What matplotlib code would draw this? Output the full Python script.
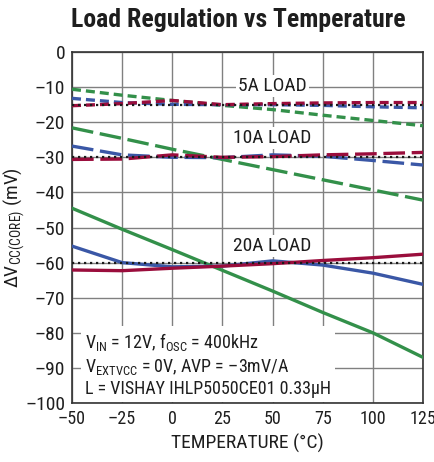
import matplotlib
matplotlib.use("Agg")
import matplotlib.pyplot as plt
from matplotlib import font_manager

names = {f.name for f in font_manager.fontManager.ttflist}
def pick(cands, default='Liberation Sans'):
    for c in cands:
        if c in names:
            return c
    return default

cond = pick(['Roboto Condensed', 'Archivo Narrow', 'Liberation Sans Narrow', 'Barlow Semi Condensed'])
cond_bold = pick(['Roboto Condensed', 'Barlow Condensed', 'Liberation Sans Narrow', 'Archivo Narrow'])
plt.rcParams['font.family'] = [cond, 'DejaVu Sans']
plt.rcParams['mathtext.fontset'] = 'custom'
plt.rcParams['mathtext.rm'] = cond

temps = [-50, -25, 0, 25, 50, 75, 100, 125]

# 5A load
g5 = [-10.6, -12.3, -13.8, -15.2, -16.4, -18.0, -19.5, -21.0]
b5 = [-13.2, -14.4, -14.9, -15.0, -15.0, -15.2, -15.6, -15.9]
r5 = [-15.3, -14.7, -13.8, -15.0, -14.7, -14.5, -14.4, -14.4]
# 10A load
g10 = [-21.6, -24.6, -27.7, -30.6, -33.5, -36.4, -39.3, -42.2]
b10 = [-26.8, -29.3, -30.0, -30.1, -29.3, -29.7, -30.9, -32.2]
r10 = [-30.6, -30.5, -29.3, -30.0, -29.8, -29.3, -29.0, -28.6]
# 20A load
g20 = [-44.5, -50.5, -56.3, -62.2, -68.1, -74.2, -80.0, -87.0]
b20 = [-55.3, -60.0, -61.2, -61.0, -59.5, -60.7, -63.0, -66.2]
r20 = [-62.1, -62.3, -61.6, -61.0, -60.3, -59.4, -58.6, -57.6]
# ideal (AVP) lines
ideal = [-15, -30, -60]

xticks = [-50, -25, 0, 25, 50, 75, 100, 125]
yticks = [0, -10, -20, -30, -40, -50, -60, -70, -80, -90, -100]

GREEN = '#33904a'
BLUE = '#3a57a6'
RED = '#9a0d3c'
TXT = '#1e1e1e'
FS = 14

fig = plt.figure(figsize=(4.35, 4.62), dpi=100)
ax = fig.add_axes([0.1655, 0.1277, 0.8069, 0.7597])

lw = 2.4
short = (0, (2.7, 1.5))
long_ = (0, (6.5, 2.0))
for y, c in [(g5, GREEN), (b5, BLUE), (r5, RED)]:
    ax.plot(temps, y, color=c, lw=lw, linestyle=short, zorder=3)
for y, c in [(g10, GREEN), (b10, BLUE), (r10, RED)]:
    ax.plot(temps, y, color=c, lw=lw, linestyle=long_, zorder=3)
for y, c in [(g20, GREEN), (b20, BLUE), (r20, RED)]:
    ax.plot(temps, y, color=c, lw=lw, linestyle='-', zorder=3)
for v in ideal:
    ax.plot([temps[0], temps[-1]], [v, v], color='#1a1a1a', lw=1.6,
            linestyle=(0, (1.0, 1.7)), zorder=4)

ax.set_xlim(-50, 125)
ax.set_ylim(-100, 0)
ax.set_xticks(xticks)
ax.set_yticks(yticks)
ax.set_xticklabels(['\u2013' + str(-t) if t < 0 else str(t) for t in xticks])
ax.set_yticklabels(['\u2013' + str(-t) if t < 0 else str(t) for t in yticks])
ax.grid(True, color='#808080', lw=1.0, zorder=1)
ax.tick_params(axis='both', length=0, labelsize=FS, colors=TXT, pad=5)
ax.tick_params(axis='x', labelsize=13)
for s in ax.spines.values():
    s.set_color('#333333')
    s.set_linewidth(1.2)

bbox = dict(facecolor='white', edgecolor='none', pad=1.5)
ax.text(50, -9.7, '5A LOAD', ha='center', va='center', fontsize=FS, color=TXT, bbox=bbox, zorder=5)
ax.text(50, -24.5, '10A LOAD', ha='center', va='center', fontsize=FS, color=TXT, bbox=bbox, zorder=5)
ax.text(50, -55.3, '20A LOAD', ha='center', va='center', fontsize=FS, color=TXT, bbox=bbox, zorder=5)

ann = ('V$_{\\mathregular{IN}}$ = 12V, f$_{\\mathregular{OSC}}$ = 400kHz\n'
       'V$_{\\mathregular{EXTVCC}}$ = 0V, AVP = \u20133mV/A\n'
       'L = VISHAY IHLP5050CE01 0.33\u00b5H')
ax.text(-43.5, -89.0, ann, ha='left', va='center', fontsize=13, color=TXT,
        linespacing=1.22, bbox=dict(facecolor='white', edgecolor='none', pad=3), zorder=5)

ax.set_xlabel('TEMPERATURE (\u00b0C)', fontsize=FS, color=TXT, labelpad=4)
ax.set_ylabel('$\\Delta$V$_{\\mathregular{CC(CORE)}}$ (mV)', fontsize=FS, color=TXT)
ax.yaxis.set_label_coords(-0.128, 0.5)
fig.text(0.548, 0.957, 'Load Regulation vs Temperature', ha='center', va='center',
         fontsize=18.5, fontweight='bold', family=[cond_bold, 'DejaVu Sans'], color=TXT)

fig.savefig('out.png', dpi=100)
